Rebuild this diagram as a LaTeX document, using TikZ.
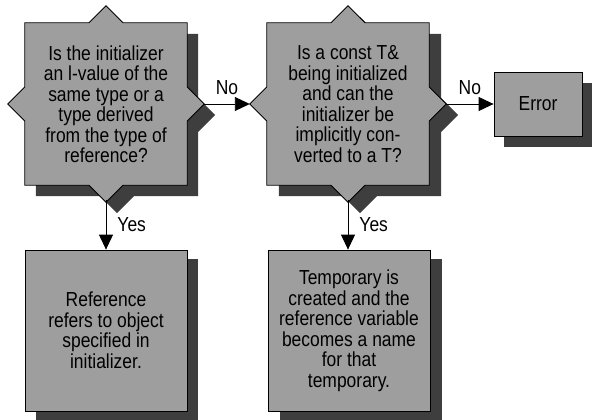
\documentclass[tikz,border=0pt]{standalone}
\usepackage{fontspec}
\setmainfont[FakeStretch=0.86]{Liberation Sans}
\usetikzlibrary{arrows.meta,calc,backgrounds}
\definecolor{boxfill}{RGB}{158,158,158}
\definecolor{shadowfill}{RGB}{62,62,62}
\newcommand\decpoly[1]{(#1.north west) -- ($(#1.north)+(-17pt,0pt)$) -- ($(#1.north)+(0pt,17pt)$) -- ($(#1.north)+(17pt,0pt)$) -- (#1.north east) -- ($(#1.east)+(0pt,17pt)$) -- ($(#1.east)+(17pt,0pt)$) -- ($(#1.east)+(0pt,-17pt)$) -- (#1.south east) -- ($(#1.south)+(17pt,0pt)$) -- ($(#1.south)+(0pt,-17pt)$) -- ($(#1.south)+(-17pt,0pt)$) -- (#1.south west) -- ($(#1.west)+(0pt,-17pt)$) -- ($(#1.west)+(-17pt,0pt)$) -- ($(#1.west)+(0pt,17pt)$) -- cycle}
\tikzset{
  txt/.style={font=\fontsize{20.3}{20.5}\selectfont, align=center, inner sep=0pt},
  decnode/.style={txt, minimum width=162pt, minimum height=162pt},
  boxnode/.style={txt, draw=black, line width=0.8pt, fill=boxfill, minimum width=162pt, minimum height=161pt},
  errnode/.style={txt, draw=black, line width=0.8pt, fill=boxfill, minimum width=88pt, minimum height=64pt},
  decfill/.style={draw=black, line width=0.8pt, fill=boxfill},
  shadow/.style={fill=shadowfill, draw=none},
  conn/.style={draw=black, line width=0.9pt, -{Triangle[length=15pt,width=14pt]}},
  lab/.style={font=\fontsize{20.3}{20.5}\selectfont, inner sep=0pt}
}
\begin{document}
\begin{tikzpicture}[x=1pt,y=-1pt]
\useasboundingbox (0,0) rectangle (595,420);
\clip (0,0) rectangle (595,420);
% decision nodes
\node[decnode] (d1) at (106,104) {Is the initializer\\an l-value of the\\same type or a\\type derived\\from the type of\\reference?};
\node[decnode] (d2) at (348,104) {Is a const T\&\\being initialized\\and can the\\initializer be\\implicitly con-\\verted to a T?};
% boxes
\node[errnode] (err) at (538,104) {Error};
\node[boxnode] (b1) at (106,330.5) {Reference\\refers to object\\specified in\\initializer.};
\node[boxnode] (b2) at (349,330.5) {Temporary is\\created and the\\reference variable\\becomes a name\\for that\\temporary.};
% tips of the decision shapes
\coordinate (d1E) at ($(d1.east)+(17pt,0pt)$);
\coordinate (d1S) at ($(d1.south)+(0pt,-15pt)$);
\coordinate (d2W) at ($(d2.west)+(-17pt,0pt)$);
\coordinate (d2E) at ($(d2.east)+(17pt,0pt)$);
\coordinate (d2S) at ($(d2.south)+(0pt,-15pt)$);
\begin{scope}[on background layer]
  \fill[shadow, transform canvas={shift={(11pt,-11pt)}}] \decpoly{d1};
  \fill[shadow, transform canvas={shift={(12pt,-11pt)}}] \decpoly{d2};
  \fill[shadow] ($(b1.south west)+(11pt,-11pt)$) rectangle ($(b1.north east)+(11pt,-9pt)$);
  \fill[shadow] ($(b2.south west)+(12pt,-11pt)$) rectangle ($(b2.north east)+(12pt,-9pt)$);
  \fill[shadow] ($(err.south west)+(10pt,-11pt)$) rectangle ($(err.north east)+(10pt,-11pt)$);
  \path[decfill] \decpoly{d1};
  \path[decfill] \decpoly{d2};
\end{scope}
% connectors
\draw[conn] (d1E) -- node[lab, above=9pt] {No} (d2W);
\draw[conn] (d2E) -- node[lab, above=9pt] {No} (err.west);
\draw[conn] (d1S) -- node[lab, right=11pt] {Yes} (d1S |- b1.north);
\draw[conn] (d2S) -- node[lab, right=11pt] {Yes} (d2S |- b2.north);
\end{tikzpicture}
\end{document}
